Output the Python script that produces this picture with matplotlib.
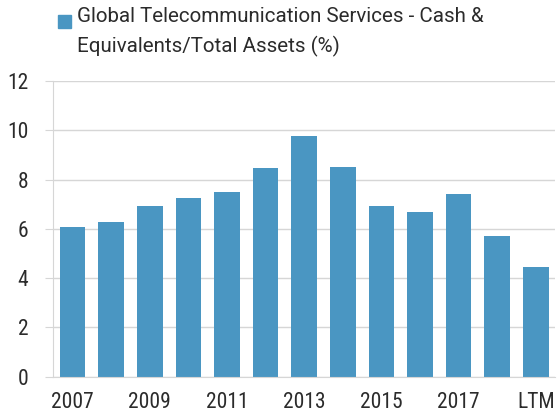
import matplotlib
matplotlib.use("Agg")
import matplotlib.pyplot as plt
from matplotlib.patches import Rectangle
import numpy as np

# Cash & equivalents as a share of total assets, by fiscal year
periods = ["2007", "2008", "2009", "2010", "2011", "2012", "2013",
           "2014", "2015", "2016", "2017", "2018", "LTM"]
cash_pct = [6.09, 6.29, 6.93, 7.24, 7.50, 8.46, 9.76,
            8.50, 6.93, 6.67, 7.40, 5.72, 4.45]
yticks = [0, 2, 4, 6, 8, 10, 12]
series_name = "Global Telecommunication Services - Cash &\nEquivalents/Total Assets (%)"

BAR_COLOR = "#4a96c2"
GRID_COLOR = "#d6d6d6"
TEXT_COLOR = "#2b2b2b"
TICK_FONT = ["Roboto Condensed", "Roboto", "DejaVu Sans"]
KEY_FONT = ["Roboto", "DejaVu Sans"]

fig = plt.figure(figsize=(5.59, 4.2), dpi=100)
ax = fig.add_axes([0.0954, 0.103, 0.8976, 0.704])

x = np.arange(len(periods))
ax.bar(x, cash_pct, width=0.66, color=BAR_COLOR, zorder=2)

ax.set_xlim(-0.5, len(periods) - 0.5)
ax.set_ylim(0, 12)
ax.set_yticks(yticks)
ax.set_yticklabels([str(v) for v in yticks])
ax.set_xticks(x[::2])
ax.set_xticklabels(periods[::2])

ax.grid(axis="y", color=GRID_COLOR, linewidth=1.0, zorder=0)
for side in ("top", "right"):
    ax.spines[side].set_visible(False)
ax.spines["left"].set_color(GRID_COLOR)
ax.spines["bottom"].set_color(GRID_COLOR)
ax.tick_params(axis="y", length=6, color=GRID_COLOR, pad=12)
ax.tick_params(axis="x", length=0, pad=11)
for lbl in ax.get_xticklabels() + ax.get_yticklabels():
    lbl.set_fontfamily(TICK_FONT)
    lbl.set_fontsize(15.5)
    lbl.set_color(TEXT_COLOR)

# series key above the plot
fig.patches.append(Rectangle((58 / 559, 1 - 28 / 420), 13 / 559, 13 / 420,
                             transform=fig.transFigure, color=BAR_COLOR))
fig.text(77 / 559, 1 - 7 / 420, series_name, ha="left", va="top",
         fontsize=14.8, family=KEY_FONT, color=TEXT_COLOR, linespacing=1.62)

fig.savefig("out.png", dpi=100)
